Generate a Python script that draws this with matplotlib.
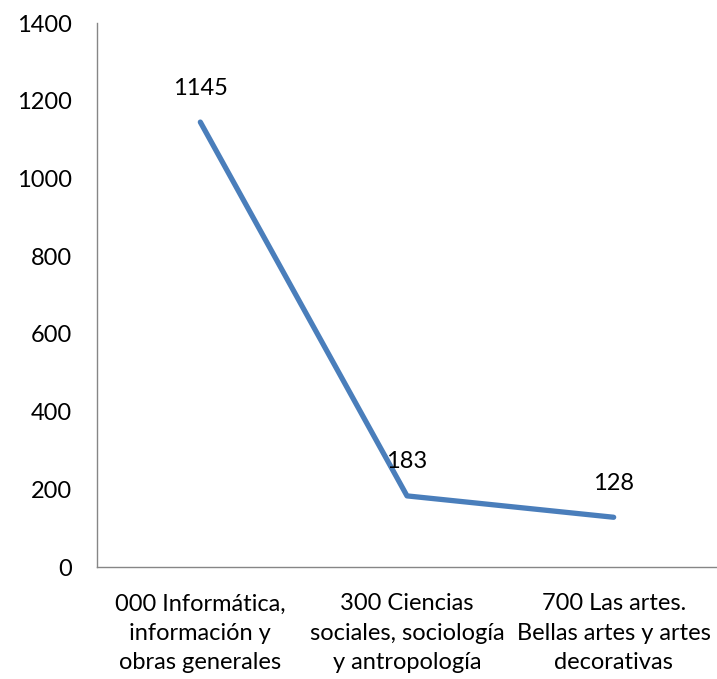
import matplotlib
matplotlib.use("Agg")
import matplotlib.pyplot as plt

categories = [
    "000 Informática,\ninformación y\nobras generales",
    "300 Ciencias\nsociales, sociología\ny antropología",
    "700 Las artes.\nBellas artes y artes\ndecorativas",
]
values = [1145, 183, 128]
yticks = [0, 200, 400, 600, 800, 1000, 1200, 1400]

plt.rcParams["font.family"] = ["Lato", "DejaVu Sans"]
FS = 17

fig = plt.figure(figsize=(7.17, 6.79), dpi=100)
ax = fig.add_axes([97 / 717, 112 / 679, 620 / 717, 544 / 679])

x = list(range(len(values)))
ax.plot(x, values, color="#4a7ebb", linewidth=3.8, solid_capstyle="round",
        solid_joinstyle="round")

for xi, v in zip(x, values):
    ax.annotate(str(v), (xi, v), xytext=(0, 34), textcoords="offset pixels",
                ha="center", va="center", fontsize=FS, color="black")

ax.set_xlim(-0.5, len(values) - 0.5)
ax.set_ylim(0, 1400)
ax.set_yticks(yticks)
ax.set_yticklabels([str(t) for t in yticks], fontsize=FS)
ax.set_xticks(x)
ax.set_xticklabels(categories, fontsize=FS, linespacing=1.5)
ax.tick_params(axis="both", length=0)
ax.tick_params(axis="y", pad=18)
ax.tick_params(axis="x", pad=19)

for side in ("top", "right"):
    ax.spines[side].set_visible(False)
for side in ("left", "bottom"):
    ax.spines[side].set_color("#868686")
    ax.spines[side].set_linewidth(1.0)

fig.savefig("out.png", dpi=100)
